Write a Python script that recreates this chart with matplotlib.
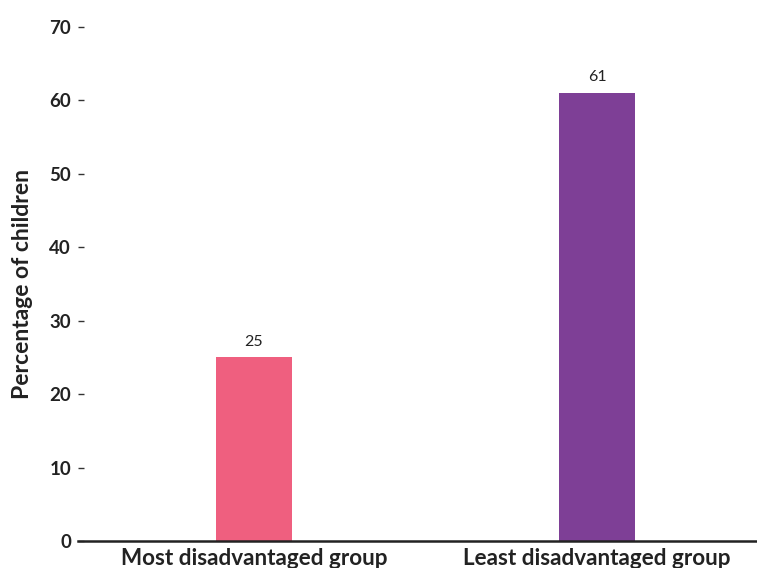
import matplotlib.pyplot as plt

# Chart data
groups = ["Most disadvantaged group", "Least disadvantaged group"]
percentages = [25, 61]
bar_colors = ["#EF5F7F", "#7E3F96"]
y_ticks = [0, 10, 20, 30, 40, 50, 60, 70]

plt.rcParams["font.family"] = ["Lato", "DejaVu Sans"]

fig = plt.figure(figsize=(7.57, 5.68), dpi=100)
ax = fig.add_axes([78 / 757, 27 / 568, (757 - 78) / 757, (541 - 27) / 568])

positions = list(range(len(groups)))
bars = ax.bar(positions, percentages, width=0.22, color=bar_colors, zorder=2)

# Value labels above bars
for bar, value in zip(bars, percentages):
    ax.text(bar.get_x() + bar.get_width() / 2, value + 1.2, f"{value}",
            ha="center", va="bottom", fontsize=11.5, color="#222222")

ax.set_xlim(-0.513, 1.466)
ax.set_ylim(0, 70)
ax.set_yticks(y_ticks)
ax.set_yticklabels([str(t) for t in y_ticks], fontsize=13.5, fontweight="bold",
                   color="#222222")
ax.tick_params(axis="y", direction="in", length=4, width=1, color="#333333", pad=5)

ax.set_xticks(positions)
ax.set_xticklabels(groups, fontsize=16.2, fontweight="bold", color="#222222")
ax.tick_params(axis="x", length=0, pad=5)

ax.set_ylabel("Percentage of children", fontsize=16.5, fontweight="bold",
              color="#222222", labelpad=12)

for side in ["top", "right", "left"]:
    ax.spines[side].set_visible(False)
ax.spines["bottom"].set_linewidth(1.8)
ax.spines["bottom"].set_color("#222222")

fig.savefig("out.png", dpi=100)
plt.close(fig)
